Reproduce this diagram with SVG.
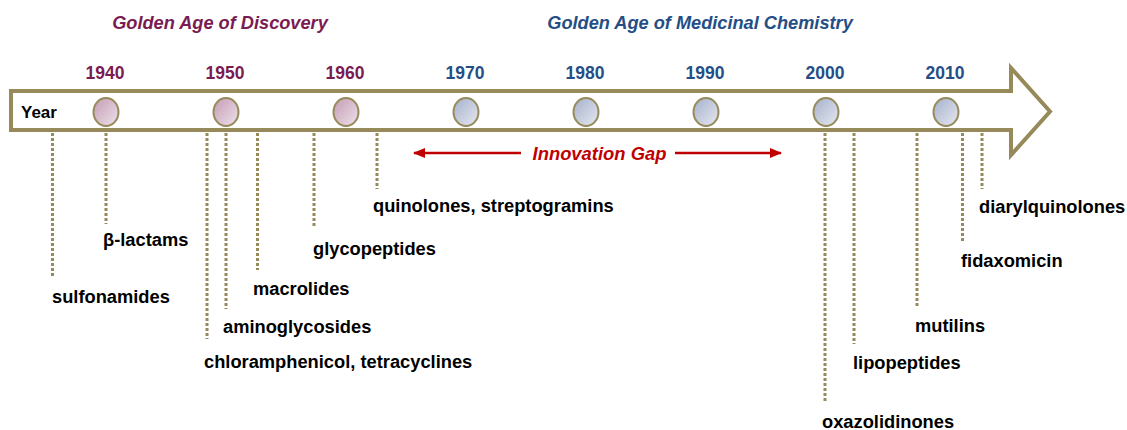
<svg xmlns="http://www.w3.org/2000/svg" width="1127" height="430" viewBox="0 0 1127 430">
  <style>
    text { font-family: "Liberation Sans", Arial, sans-serif; font-weight: bold; }
    .era { font-size: 18.2px; font-style: italic; }
    .purple { fill: #7A1B52; }
    .blue { fill: #244E85; }
    .yr { font-size: 17.5px; text-anchor: middle; }
    .lbl { font-size: 18.3px; fill: #000; }
    .drop { stroke: #968A5A; stroke-width: 3; stroke-dasharray: 3 2; fill: none; }
    .dot { stroke: #968A5A; stroke-width: 2; }
    .gap { stroke: #C00000; stroke-width: 2.5; fill: none; }
  </style>
  <defs>
    <linearGradient id="gPink" x1="0" y1="0" x2="1" y2="1">
      <stop offset="0" stop-color="#C49BB4"/>
      <stop offset="1" stop-color="#EEE3EA"/>
    </linearGradient>
    <linearGradient id="gBlue" x1="0" y1="0" x2="1" y2="1">
      <stop offset="0" stop-color="#A5B0CA"/>
      <stop offset="1" stop-color="#E6E9F1"/>
    </linearGradient>
    <marker id="headR" markerWidth="12" markerHeight="10" refX="11" refY="5" orient="auto" markerUnits="userSpaceOnUse">
      <path d="M0,0 L12,5 L0,10 Z" fill="#C00000"/>
    </marker>
    <marker id="headL" markerWidth="12" markerHeight="10" refX="1" refY="5" orient="auto" markerUnits="userSpaceOnUse">
      <path d="M12,0 L0,5 L12,10 Z" fill="#C00000"/>
    </marker>
  </defs>

  <!-- era headings -->
  <text class="era purple" x="220" y="29" text-anchor="middle">Golden Age of Discovery</text>
  <text class="era blue" x="700" y="29" text-anchor="middle">Golden Age of Medicinal Chemistry</text>

  <!-- timeline arrow -->
  <g id="timeline">
    <path d="M11,91 H1011 V68 L1050,111.5 L1011,155 V130 H11 Z" fill="#FFFFFF" stroke="#968A5A" stroke-width="4" stroke-linejoin="miter"/>
    <text x="21" y="118" style="font-size:17px" fill="#000">Year</text>
  </g>

  <!-- decade markers -->
  <g id="decade-1940"><text class="yr purple" x="105" y="79">1940</text><ellipse class="dot" cx="106" cy="112" rx="12.5" ry="14" fill="url(#gPink)"/></g>
  <g id="decade-1950"><text class="yr purple" x="225" y="79">1950</text><ellipse class="dot" cx="226" cy="112" rx="12.5" ry="14" fill="url(#gPink)"/></g>
  <g id="decade-1960"><text class="yr purple" x="345" y="79">1960</text><ellipse class="dot" cx="346" cy="112" rx="12.5" ry="14" fill="url(#gPink)"/></g>
  <g id="decade-1970"><text class="yr blue" x="465" y="79">1970</text><ellipse class="dot" cx="466" cy="112" rx="12.5" ry="14" fill="url(#gBlue)"/></g>
  <g id="decade-1980"><text class="yr blue" x="585" y="79">1980</text><ellipse class="dot" cx="586" cy="112" rx="12.5" ry="14" fill="url(#gBlue)"/></g>
  <g id="decade-1990"><text class="yr blue" x="705" y="79">1990</text><ellipse class="dot" cx="706" cy="112" rx="12.5" ry="14" fill="url(#gBlue)"/></g>
  <g id="decade-2000"><text class="yr blue" x="825" y="79">2000</text><ellipse class="dot" cx="826" cy="112" rx="12.5" ry="14" fill="url(#gBlue)"/></g>
  <g id="decade-2010"><text class="yr blue" x="945" y="79">2010</text><ellipse class="dot" cx="946" cy="112" rx="12.5" ry="14" fill="url(#gBlue)"/></g>

  <!-- drop lines to antibiotic classes -->
  <g id="connectors">
    <line class="drop" x1="52.5" y1="133" x2="52.5" y2="277"/>
    <line class="drop" x1="106" y1="133" x2="106" y2="224"/>
    <line class="drop" x1="207" y1="133" x2="207" y2="339"/>
    <line class="drop" x1="226" y1="133" x2="226" y2="309"/>
    <line class="drop" x1="257.5" y1="133" x2="257.5" y2="270"/>
    <line class="drop" x1="314" y1="133" x2="314" y2="228"/>
    <line class="drop" x1="377" y1="133" x2="377" y2="189"/>
    <line class="drop" x1="825" y1="133" x2="825" y2="403"/>
    <line class="drop" x1="854" y1="133" x2="854" y2="344"/>
    <line class="drop" x1="917" y1="133" x2="917" y2="307"/>
    <line class="drop" x1="962.5" y1="133" x2="962.5" y2="241"/>
    <line class="drop" x1="982" y1="133" x2="982" y2="189"/>
    <!-- innovation gap span -->
    <line class="gap" x1="414" y1="153" x2="521" y2="153" marker-start="url(#headL)"/>
    <line class="gap" x1="675" y1="153" x2="781" y2="153" marker-end="url(#headR)"/>
  </g>

  <text x="599.5" y="160" text-anchor="middle" class="era" style="font-size:18.4px" fill="#C00000">Innovation Gap</text>

  <!-- antibiotic classes -->
  <g id="sulfonamides"><text class="lbl" x="52" y="303">sulfonamides</text></g>
  <g id="beta-lactams"><text class="lbl" x="103" y="246">β-lactams</text></g>
  <g id="macrolides"><text class="lbl" x="253" y="295">macrolides</text></g>
  <g id="aminoglycosides"><text class="lbl" x="223" y="333">aminoglycosides</text></g>
  <g id="chloramphenicol"><text class="lbl" x="204" y="368">chloramphenicol, tetracyclines</text></g>
  <g id="glycopeptides"><text class="lbl" x="313" y="255">glycopeptides</text></g>
  <g id="quinolones"><text class="lbl" x="373" y="212">quinolones, streptogramins</text></g>
  <g id="oxazolidinones"><text class="lbl" x="822" y="428">oxazolidinones</text></g>
  <g id="lipopeptides"><text class="lbl" x="853" y="369">lipopeptides</text></g>
  <g id="mutilins"><text class="lbl" x="915" y="332">mutilins</text></g>
  <g id="fidaxomicin"><text class="lbl" x="961" y="267">fidaxomicin</text></g>
  <g id="diarylquinolones"><text class="lbl" x="979" y="213">diarylquinolones</text></g>
</svg>
